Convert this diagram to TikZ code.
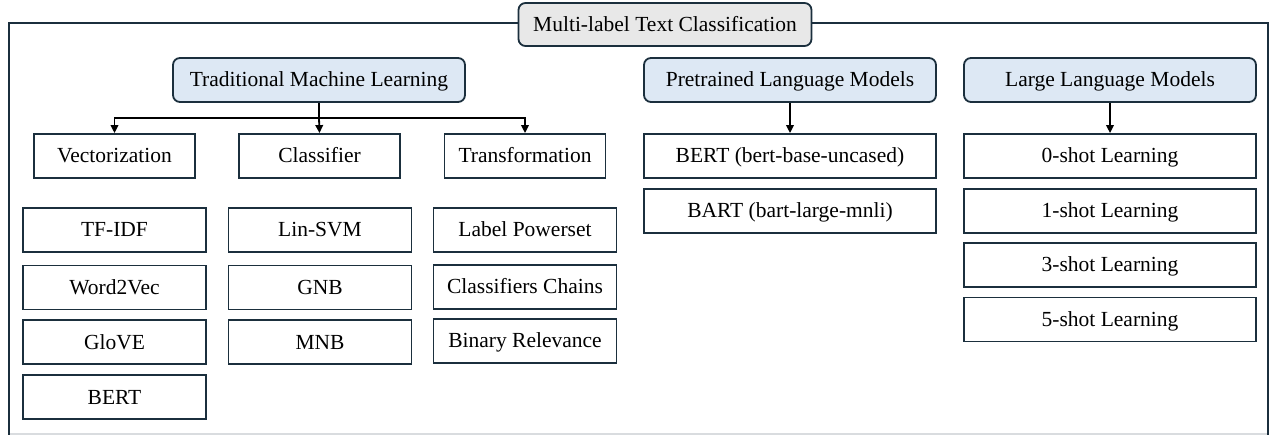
\documentclass[tikz,border=0pt]{standalone}
\usepackage{fontspec}
\setmainfont{Liberation Serif}
\usetikzlibrary{arrows.meta}
\definecolor{edge}{HTML}{1B2F3D}
\definecolor{bluefill}{HTML}{DDE8F4}
\definecolor{greyfill}{HTML}{E8E8E8}
\definecolor{bottomgrey}{HTML}{D9DCDF}
\tikzset{
  every node/.style={font=\fontsize{21.5}{24}\selectfont, text=black, inner sep=0pt, text height=17pt, text depth=3pt},
  titlebox/.style={draw=edge, line width=1.8pt, fill=greyfill, rounded corners=7pt, minimum width=293pt, minimum height=43pt},
  catbox/.style={draw=edge, line width=1.8pt, fill=bluefill, rounded corners=7pt, minimum width=292pt, minimum height=44pt},
  subbox/.style={draw=edge, line width=1.8pt, fill=white, minimum width=161pt, minimum height=44pt},
  itembox/.style={draw=edge, line width=1.8pt, fill=white, minimum width=183pt, minimum height=44pt},
  widebox/.style={draw=edge, line width=1.8pt, fill=white, minimum width=292pt, minimum height=44pt},
  frameline/.style={draw=edge, line width=2pt},
  arr/.style={draw=black, line width=1.8pt, -{Triangle[length=8pt,width=7.5pt]}},
}
\begin{document}
\begin{tikzpicture}[x=1pt, y=-1pt]
\useasboundingbox (0,0) rectangle (1271,435);
% outer frame
\draw[draw=bottomgrey, line width=1.5pt] (8.5,434) -- (1268,434);
\draw[frameline] (8.5,435) -- (8.5,23) -- (1268,23) -- (1268,435);
% title
\node[titlebox] (title) at (665,24.5) {Multi-label Text Classification};
% categories
\node[catbox] (tml) at (319,80) {Traditional Machine Learning};
\node[catbox] (plm) at (790,80) {Pretrained Language Models};
\node[catbox] (llm) at (1110,80) {Large Language Models};
% TML sub-categories
\node[subbox] (vec) at (114.5,156) {Vectorization};
\node[subbox] (cls) at (319.5,156) {Classifier};
\node[subbox] (trf) at (525,156) {Transformation};
% Vectorization items
\node[itembox] (tfidf) at (114.5,230) {TF-IDF};
\node[itembox] (w2v) at (114.5,287.5) {Word2Vec};
\node[itembox] (glove) at (114.5,342) {GloVE};
\node[itembox] (bert1) at (114.5,397) {BERT};
% Classifier items
\node[itembox] (svm) at (320,230) {Lin-SVM};
\node[itembox] (gnb) at (320,287.5) {GNB};
\node[itembox] (mnb) at (320,342) {MNB};
% Transformation items
\node[itembox] (lp) at (525,230) {Label Powerset};
\node[itembox] (cc) at (525,287) {Classifiers Chains};
\node[itembox] (br) at (525,341) {Binary Relevance};
% PLM items
\node[widebox] (bertb) at (790,156) {BERT (bert-base-uncased)};
\node[widebox] (bart) at (790,211) {BART (bart-large-mnli)};
% LLM items
\node[widebox] (s0) at (1110,156) {0-shot Learning};
\node[widebox] (s1) at (1110,211) {1-shot Learning};
\node[widebox] (s3) at (1110,265) {3-shot Learning};
\node[widebox] (s5) at (1110,319.5) {5-shot Learning};
% connectors
\coordinate (jn) at (0,118);
\draw[line width=1.8pt] (tml.south) -- (tml.south |- jn);
\draw[arr] (tml.south |- jn) -| (vec.north);
\draw[arr] (tml.south |- jn) -- (cls.north);
\draw[arr] (tml.south |- jn) -| (trf.north);
\draw[arr] (plm.south) -- (bertb.north);
\draw[arr] (llm.south) -- (s0.north);
\end{tikzpicture}
\end{document}
